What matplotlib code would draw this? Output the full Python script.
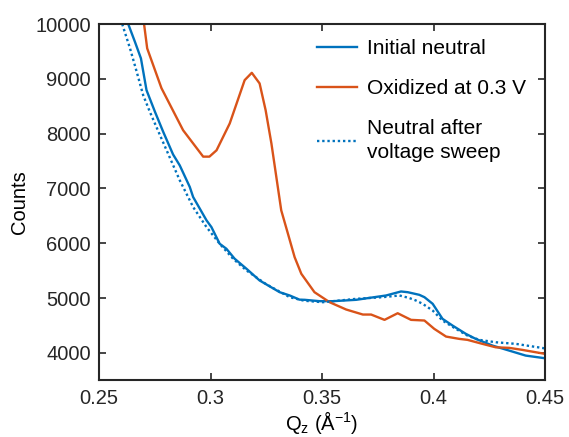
import numpy as np
import matplotlib.pyplot as plt

plt.rcParams['font.family'] = ['Liberation Sans', 'DejaVu Sans']

# Initial neutral
qz_init = [0.2631, 0.2661, 0.2688, 0.2713, 0.2751, 0.2788, 0.2832, 0.2862, 0.2907,
           0.2922, 0.2982, 0.3004, 0.3041, 0.3071, 0.3108, 0.3161, 0.3220, 0.3310,
           0.3355, 0.3399, 0.3422, 0.3489, 0.3548, 0.3653, 0.3787, 0.3854, 0.3884,
           0.3936, 0.3959, 0.3996, 0.4040, 0.4085, 0.4145, 0.4189, 0.4264, 0.4339,
           0.4413, 0.4500]
cnt_init = [10000, 9676, 9373, 8793, 8397, 8031, 7620, 7420, 7026,
            6843, 6417, 6294, 5990, 5899, 5717, 5534, 5320, 5106,
            5046, 4970, 4967, 4942, 4942, 4967, 5046, 5119, 5106,
            5058, 5015, 4894, 4620, 4497, 4345, 4254, 4132, 4040,
            3949, 3900]

# Oxidized at 0.3 V
qz_ox = [0.2702, 0.2716, 0.2780, 0.2877, 0.2967, 0.2995, 0.3027, 0.3086, 0.3153,
         0.3185, 0.3220, 0.3247, 0.3273, 0.3295, 0.3317, 0.3347, 0.3377, 0.3407,
         0.3466, 0.3534, 0.3608, 0.3683, 0.3720, 0.3780, 0.3839, 0.3899, 0.3959,
         0.4003, 0.4056, 0.4115, 0.4152, 0.4219, 0.4279, 0.4339, 0.4398, 0.4500]
cnt_ox = [10000, 9556, 8830, 8062, 7580, 7580, 7696, 8185, 8976,
          9110, 8916, 8428, 7819, 7209, 6600, 6174, 5746, 5442,
          5106, 4923, 4790, 4698, 4698, 4601, 4722, 4601, 4589,
          4437, 4296, 4254, 4236, 4163, 4100, 4090, 4053, 3980]

# Neutral after voltage sweep
qz_after = [0.2604, 0.2639, 0.2669, 0.2698, 0.2728, 0.2780, 0.2862, 0.2922, 0.2982,
            0.3041, 0.3101, 0.3161, 0.3250, 0.3355, 0.3420, 0.3504, 0.3653, 0.3772,
            0.3847, 0.3891, 0.3921, 0.3951, 0.3996, 0.4040, 0.4100, 0.4152, 0.4205,
            0.4279, 0.4369, 0.4500]
cnt_after = [10000, 9556, 9128, 8702, 8397, 7910, 7148, 6660, 6294,
             5990, 5717, 5503, 5250, 5015, 4950, 4923, 4985, 5015,
             5046, 5000, 4954, 4894, 4771, 4589, 4437, 4314, 4236,
             4192, 4163, 4080]

xticks = [0.25, 0.3, 0.35, 0.4, 0.45]
xticklabels = ['0.25', '0.3', '0.35', '0.4', '0.45']
yticks = [4000, 5000, 6000, 7000, 8000, 9000, 10000]

blue = '#0072BD'
orange = '#D95319'
txt = '#262626'

fig = plt.figure(figsize=(5.69, 4.37), dpi=100)
ax = fig.add_axes([0.174, 0.130, 0.784, 0.815])

ax.plot(qz_init, cnt_init, color=blue, lw=1.7, label='Initial neutral')
ax.plot(qz_ox, cnt_ox, color=orange, lw=1.7, label='Oxidized at 0.3 V')
ax.plot(qz_after, cnt_after, color=blue, lw=1.7, linestyle=(0, (1, 1.2)),
        label='Neutral after\nvoltage sweep')

ax.set_xlim(0.25, 0.45)
ax.set_ylim(3500, 10000)
ax.set_xticks(xticks)
ax.set_xticklabels(xticklabels)
ax.set_yticks(yticks)

ax.tick_params(direction='in', top=True, right=True, length=5, width=1.2,
               labelsize=14.5, colors=txt, pad=6)
for s in ax.spines.values():
    s.set_linewidth(1.5)
    s.set_color(txt)

ax.set_xlabel('Q$_\\mathregular{z}$ (Å$^\\mathregular{-1}$)', fontsize=14.5,
              color='black', labelpad=1)
ax.set_ylabel('Counts', fontsize=14.5, color='black')

leg = ax.legend(loc='upper right', frameon=False, fontsize=15, handlelength=1.9,
                borderaxespad=0.5, labelspacing=1.0, handletextpad=0.5,
                bbox_to_anchor=(1.0, 1.01))
for t in leg.get_texts():
    t.set_linespacing(1.35)

fig.savefig('out.png', dpi=100)
